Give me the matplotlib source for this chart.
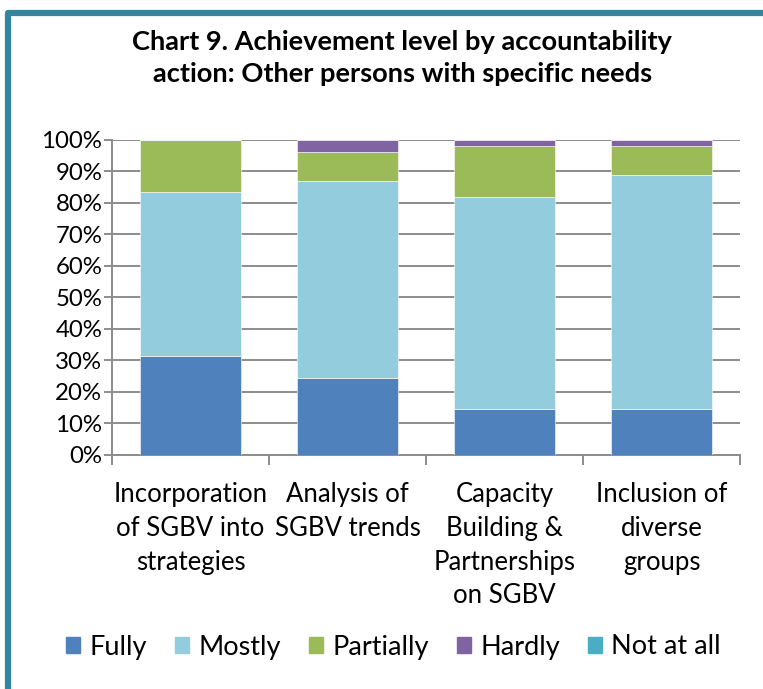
import matplotlib.pyplot as plt
import numpy as np
from matplotlib.lines import Line2D
from matplotlib.ticker import FixedLocator, PercentFormatter

plt.rcParams['font.family'] = ['Lato', 'DejaVu Sans']

# data (percent of responses)
categories = ["Incorporation\nof SGBV into\nstrategies",
              "Analysis of\nSGBV trends",
              "Capacity\nBuilding &\nPartnerships\non SGBV",
              "Inclusion of\ndiverse\ngroups"]
levels = ["Fully", "Mostly", "Partially", "Hardly", "Not at all"]
fully = [31.3, 24.2, 14.5, 14.6]
mostly = [51.9, 62.5, 67.2, 74.1]
partially = [16.8, 9.3, 16.3, 9.3]
hardly = [0.0, 4.0, 2.0, 2.0]
not_at_all = [0.0, 0.0, 0.0, 0.0]
colors = ["#4F81BD", "#93CDDD", "#9BBB59", "#8064A2", "#4BACC6"]

series = [fully, mostly, partially, hardly, not_at_all]

fig = plt.figure(figsize=(7.63, 6.89), dpi=100)
ax = fig.add_axes([0.1468, 0.3403, 0.970 - 0.1468, 0.7975 - 0.3403])

x = np.arange(len(categories))
bottom = np.zeros(len(categories))
handles = []
for name, vals, col in zip(levels, series, colors):
    vals = np.array(vals)
    ax.bar(x, vals, width=0.64, bottom=bottom, color=col, zorder=3,
           edgecolor="white", linewidth=0.4)
    bottom += vals
    handles.append(plt.Rectangle((0, 0), 1, 1, color=col))

grid_col = "#8c8c8c"
ax.set_ylim(0, 100)
ax.set_xlim(-0.5, len(categories) - 0.5)
ax.set_yticks(np.arange(0, 101, 10))
ax.yaxis.set_major_formatter(PercentFormatter(decimals=0))
ax.yaxis.grid(True, color=grid_col, linewidth=1.4, zorder=0)
ax.tick_params(axis="y", length=6, width=1.4, color=grid_col, labelsize=17.3, pad=1)

# ticks between categories, labels under the bars
ax.xaxis.set_major_locator(FixedLocator(np.arange(-0.5, len(categories), 1)))
ax.set_xticklabels([])
ax.set_xticks(x, minor=True)
ax.set_xticklabels(categories, minor=True, fontsize=18.5, linespacing=1.43, va="top")
ax.tick_params(axis="x", which="major", length=7, width=1.4, color=grid_col)
ax.tick_params(axis="x", which="minor", length=0, pad=20)

for s in ["top", "right"]:
    ax.spines[s].set_visible(False)
for s in ["left", "bottom"]:
    ax.spines[s].set_color(grid_col)
    ax.spines[s].set_linewidth(1.4)

fig.text(0.527, 1 - 58 / 689, "Chart 9. Achievement level by accountability\naction: Other persons with specific needs",
         ha="center", va="center", fontsize=19.6, fontweight="bold", linespacing=1.4)

fig.legend(handles, levels, loc="center", bbox_to_anchor=(0.516, 1 - 647 / 689), ncol=5,
           frameon=False, fontsize=19.5, handlelength=0.5, handleheight=0.5,
           handletextpad=0.35, columnspacing=1.05)

# teal frame on the left and top edge
W, H = 763.0, 689.0
frame = Line2D([8 / W, 8 / W, 1.02], [-0.02, 1 - 13 / H, 1 - 13 / H],
               transform=fig.transFigure, color="#31859C", linewidth=4.5,
               solid_joinstyle="round")
fig.add_artist(frame)

fig.savefig("out.png", dpi=100)
